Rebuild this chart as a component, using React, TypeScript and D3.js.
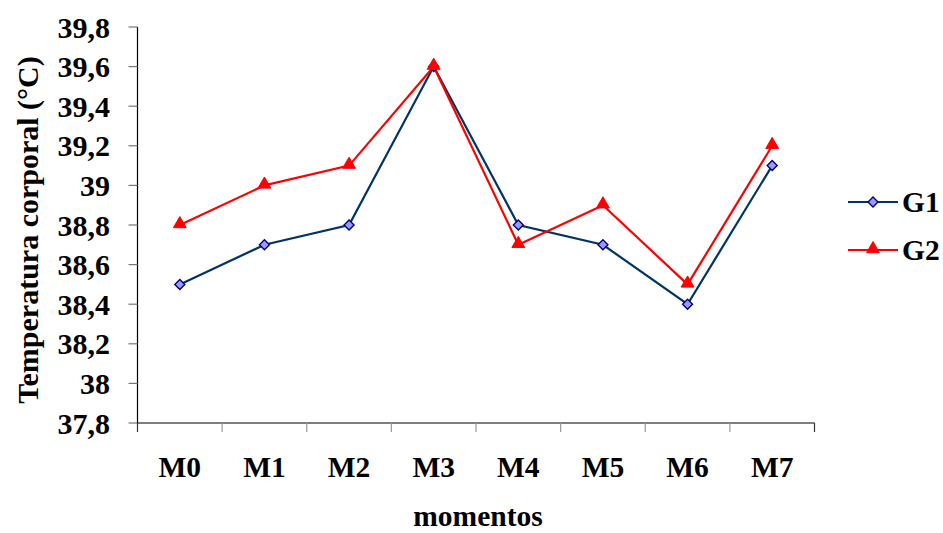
import React from "react";
import * as d3 from "d3";

const categories = ["M0", "M1", "M2", "M3", "M4", "M5", "M6", "M7"];
const g1Values = [38.5, 38.7, 38.8, 39.6, 38.8, 38.7, 38.4, 39.1];
const g2Values = [38.8, 39.0, 39.1, 39.6, 38.7, 38.9, 38.5, 39.2];
const yTicks = [37.8, 38, 38.2, 38.4, 38.6, 38.8, 39, 39.2, 39.4, 39.6, 39.8];
const seriesNames = ["G1", "G2"];

const W = 943, H = 533;
const left = 137.5, right = 814.5, top = 27, bottom = 423;
const font = "'Liberation Serif', 'Times New Roman', serif";

const diamondPath = (r: number) => {
  const p = d3.path();
  p.moveTo(0, -r);
  p.lineTo(r, 0);
  p.lineTo(0, r);
  p.lineTo(-r, 0);
  p.closePath();
  return p.toString();
};

export default function App() {
  const x = d3.scaleBand<string>().domain(categories).range([left, right]);
  const y = d3.scaleLinear().domain([37.8, 39.8]).range([bottom, top]);
  const cx = (c: string) => (x(c) as number) + x.bandwidth() / 2;
  const line = d3.line<number>().x((_, i) => cx(categories[i])).y((v) => y(v));
  const fmt = (v: number) => String(+v.toFixed(1)).replace(".", ",");
  const diamond = diamondPath(5);
  const tri = d3.symbol(d3.symbolTriangle, 72)();
  const boundaries = [...categories.map((c) => x(c) as number), right];

  return (
    <svg width={W} height={H} style={{ position: "absolute", left: 0, top: 0, background: "#fff" }}>
      {/* y axis */}
      <line x1={left} x2={left} y1={top} y2={bottom} stroke="#000" strokeWidth={1.2} />
      {yTicks.map((t) => (
        <g key={t}>
          <line x1={left - 9} x2={left} y1={y(t)} y2={y(t)} stroke="#777" strokeWidth={1.2} />
          <text x={110} y={y(t)} dy="0.35em" textAnchor="end" fontFamily={font} fontWeight="bold" fontSize={30}>
            {fmt(t)}
          </text>
        </g>
      ))}
      {/* x axis */}
      <line x1={left} x2={right} y1={bottom} y2={bottom} stroke="#000" strokeWidth={1.2} />
      {boundaries.map((b, i) => (
        <line key={i} x1={b} x2={b} y1={bottom} y2={bottom + 9} stroke={i === 0 || i === boundaries.length - 1 ? "#333" : "#999"} strokeWidth={1.2} />
      ))}
      {categories.map((c) => (
        <text key={c} x={cx(c)} y={477} textAnchor="middle" fontFamily={font} fontWeight="bold" fontSize={29.5}>
          {c}
        </text>
      ))}
      <text x={478} y={526} textAnchor="middle" fontFamily={font} fontWeight="bold" fontSize={29.5}>
        momentos
      </text>
      <text transform={`translate(27,${230}) rotate(-90)`} dy="0.35em" textAnchor="middle" fontFamily={font} fontWeight="bold" fontSize={30}>
        Temperatura corporal (°C)
      </text>

      {/* series */}
      <path d={line(g1Values) as string} fill="none" stroke="#003366" strokeWidth={2.2} />
      <path d={line(g2Values) as string} fill="none" stroke="#ff0000" strokeWidth={2.2} />
      {g1Values.map((v, i) => (
        <path key={"a" + i} d={diamond} transform={`translate(${cx(categories[i])},${y(v)})`} fill="#9999ff" stroke="#000080" strokeWidth={1.4} />
      ))}
      {g2Values.map((v, i) => (
        <path key={"b" + i} d={tri as string} transform={`translate(${cx(categories[i])},${y(v) - 1})`} fill="#ff0000" stroke="#ff0000" strokeWidth={1} />
      ))}

      {/* legend */}
      <line x1={848} x2={898} y1={202} y2={202} stroke="#003366" strokeWidth={2.2} />
      <path d={diamond} transform="translate(873,202)" fill="#9999ff" stroke="#000080" strokeWidth={1.4} />
      <text x={902} y={212} fontFamily={font} fontWeight="bold" fontSize={29.5}>{seriesNames[0]}</text>
      <line x1={848} x2={898} y1={250} y2={250} stroke="#ff0000" strokeWidth={2.2} />
      <path d={tri as string} transform="translate(873,249)" fill="#ff0000" stroke="#ff0000" strokeWidth={1} />
      <text x={902} y={260} fontFamily={font} fontWeight="bold" fontSize={29.5}>{seriesNames[1]}</text>
    </svg>
  );
}
